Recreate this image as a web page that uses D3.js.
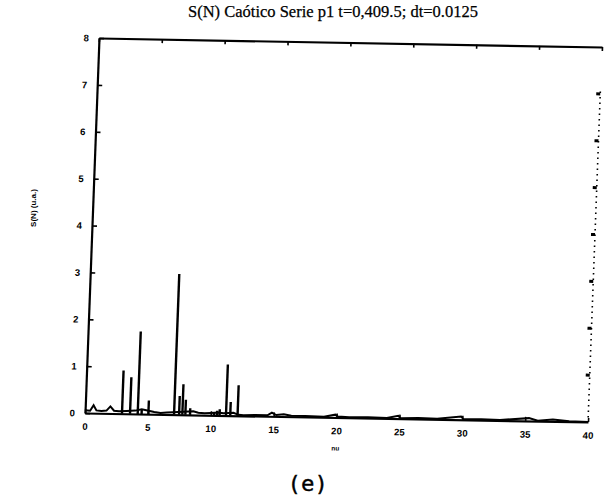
<!DOCTYPE html>
<html>
<head>
<meta charset="utf-8">
<script src="https://cdn.jsdelivr.net/npm/d3@7"></script>
<style>
  html, body { margin: 0; padding: 0; background: #fff; }
  svg { display: block; }
</style>
</head>
<body>
<svg id="chart" width="606" height="500"></svg>
<script>
// Power spectrum S(N) of the chaotic series p1
const titleText = "S(N) Caótico Serie p1  t=0,409.5; dt=0.0125";
const yLabelText = "S(N) (u.a.)";
const xLabelText = "nu";
const panelTag = "(e)";

const xTicks = [0, 5, 10, 15, 20, 25, 30, 35, 40];
const yTicks = [0, 1, 2, 3, 4, 5, 6, 7, 8];

// continuous floor of the spectrum
const baseFreq = [0, 0.4, 0.66, 0.9, 1.3, 1.7, 2.0, 2.3, 2.7, 3.3, 4.0, 4.5, 5.5, 6.0, 6.5, 7.0,
  8.6, 9.0, 9.5, 10.0, 10.6, 11.0, 11.8, 12.2, 12.6, 13.5, 14.5, 14.85, 15.2, 15.8, 16.4,
  17.5, 19.0, 19.9, 20.1, 21.0, 22.5, 24.0, 24.9, 25.1, 26.5, 28.0, 29.9, 30.1, 31.5, 33.0,
  35.3, 36.0, 37.2, 38.5, 40];
const baseAmp = [0.06, 0.05, 0.17, 0.06, 0.05, 0.06, 0.15, 0.06, 0.05, 0.06, 0.07, 0.1, 0.05, 0.03, 0.04, 0.05,
  0.08, 0.05, 0.04, 0.05, 0.06, 0.05, 0.06, 0.02, 0.01, 0.02, 0.02, 0.08, 0.03, 0.05, 0.02,
  0.02, 0.01, 0.06, 0.02, 0.01, 0.02, 0.01, 0.06, 0.01, 0.02, 0.01, 0.07, 0.01, 0.02, 0.01,
  0.06, 0.01, 0.04, 0.01, 0];

// sharp spectral lines
const peakFreq = [2.94, 3.58, 4.19, 4.5, 5.04, 7.08, 7.48, 7.74, 7.98, 8.35, 10.26, 10.5, 10.7, 11.21, 11.55, 12.13];
const peakAmp  = [0.92, 0.78, 1.76, 0.1, 0.29, 3.0, 0.4, 0.65, 0.32, 0.14, 0.07, 0.1, 0.13, 1.09, 0.29, 0.65];

const W = 503, H = 375;
const svg = d3.select("#chart");

// the plotted frame sits slightly sheared on the page
const plot = svg.append("g")
  .attr("transform", `matrix(1, ${9 / 503}, ${-14 / 375}, 1, 99, 38)`);

const x = d3.scaleLinear().domain([0, 40]).range([0, W]);
const y = d3.scaleLinear().domain([0, 8]).range([H, 0]);

const tickFont = "'Liberation Sans', Arial, sans-serif";

// bottom axis
const xAxis = plot.append("g")
  .attr("transform", `translate(0,${H})`)
  .call(d3.axisBottom(x).tickValues(xTicks).tickFormat(d3.format("d"))
    .tickSizeInner(-4).tickSizeOuter(0).tickPadding(10));

// left axis
const yAxis = plot.append("g")
  .call(d3.axisLeft(y).tickValues(yTicks).tickFormat(d3.format("d"))
    .tickSizeInner(-5).tickSizeOuter(0).tickPadding(10));

// top frame
const topAxis = plot.append("g")
  .call(d3.axisTop(x).tickValues(xTicks).tickFormat("")
    .tickSizeInner(-4).tickSizeOuter(0));

[xAxis, yAxis, topAxis].forEach(g => {
  g.select(".domain").attr("stroke", "#000").attr("stroke-width", 2.2);
  g.selectAll(".tick line").attr("stroke", "#000").attr("stroke-width", 1.6);
  g.selectAll(".tick text")
    .attr("fill", "#000")
    .attr("font-family", tickFont)
    .attr("font-weight", "bold")
    .attr("font-size", 9.5);
});

// right frame: dotted
plot.append("line")
  .attr("x1", x(40)).attr("x2", x(40))
  .attr("y1", y(7.05)).attr("y2", y(0))
  .attr("stroke", "#000").attr("stroke-width", 1.6)
  .attr("stroke-dasharray", "1.5,4");
plot.append("g").selectAll("line")
  .data(yTicks.filter(v => v > 0 && v < 8))
  .join("line")
  .attr("x1", x(40) - 4).attr("x2", x(40))
  .attr("y1", d => y(d)).attr("y2", d => y(d))
  .attr("stroke", "#000").attr("stroke-width", 3);

// spectrum floor
const floorPts = baseFreq.map((f, i) => [f, baseAmp[i]]);
plot.append("path")
  .datum(floorPts)
  .attr("fill", "none")
  .attr("stroke", "#000")
  .attr("stroke-width", 2)
  .attr("d", d3.line().x(d => x(d[0])).y(d => y(d[1])));

// spectral lines
plot.append("g").selectAll("line")
  .data(peakFreq.map((f, i) => ({ f, a: peakAmp[i] })))
  .join("line")
  .attr("x1", d => x(d.f)).attr("x2", d => x(d.f))
  .attr("y1", y(0)).attr("y2", d => y(d.a))
  .attr("stroke", "#000")
  .attr("stroke-width", 2.4);

// axis titles
plot.append("text")
  .attr("x", x(20)).attr("y", H + 33)
  .attr("text-anchor", "middle")
  .attr("font-family", tickFont).attr("font-weight", "bold")
  .attr("font-size", 6.5)
  .text(xLabelText);

svg.append("text")
  .attr("transform", "translate(36,208) rotate(-90)")
  .attr("text-anchor", "middle")
  .attr("font-family", tickFont).attr("font-weight", "bold")
  .attr("font-size", 8)
  .text(yLabelText);

// title
svg.append("text")
  .attr("x", 333).attr("y", 17)
  .attr("text-anchor", "middle")
  .attr("font-family", "'Liberation Serif', 'Times New Roman', serif")
  .attr("font-size", 16.5)
  .attr("stroke", "#000").attr("stroke-width", 0.25)
  .text(titleText);

// panel tag
svg.append("text")
  .attr("x", 309).attr("y", 491)
  .attr("text-anchor", "middle")
  .attr("font-family", "'DejaVu Sans', sans-serif")
  .attr("font-size", 21)
  .attr("letter-spacing", 2.5)
  .attr("stroke", "#000").attr("stroke-width", 0.5)
  .text(panelTag);
</script>
</body>
</html>
